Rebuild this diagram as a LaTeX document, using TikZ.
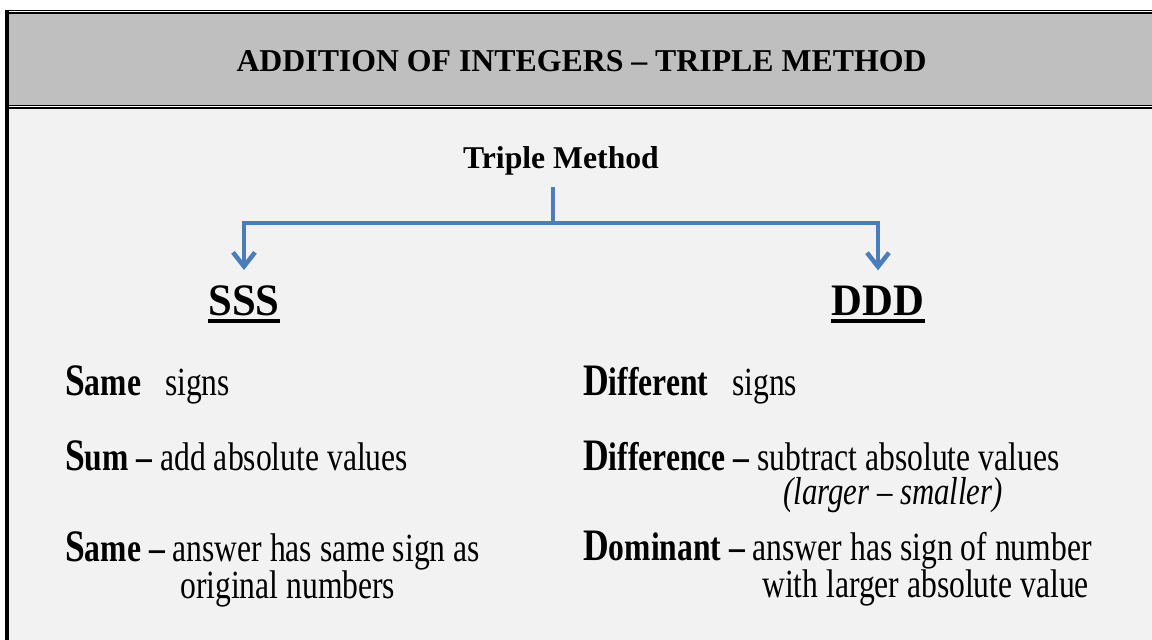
\documentclass[tikz,border=0pt]{standalone}
\usepackage{fontspec}
\setmainfont{Liberation Serif}
\newfontfamily\narrowfont[FakeStretch=0.79]{Liberation Serif}
\newfontfamily\bannerfont[FakeStretch=0.95]{Liberation Serif}
\usetikzlibrary{arrows.meta}
\definecolor{headgray}{RGB}{191,191,191}
\definecolor{bodygray}{RGB}{242,242,242}
\definecolor{flowblue}{RGB}{74,126,187}
\newcommand{\leadletter}[2]{{\bfseries{\fontsize{45}{48}\selectfont #1}#2}}

\begin{document}
\begin{tikzpicture}[x=1pt,y=-1pt,
	branch/.style={draw=flowblue,line width=4.5pt},
	rowtext/.style={anchor=base west,inner sep=0pt,font=\narrowfont\fontsize{40}{44}\selectfont},
	banner/.style={anchor=base,inner sep=0pt,font=\bannerfont\bfseries\fontsize{45}{50}\selectfont}]
\pgfmathsetmacro{\leftx}{65}
\pgfmathsetmacro{\rightx}{583}

\useasboundingbox (0,0) rectangle (1152,640);
\fill[white] (0,0) rectangle (1152,640);
\fill[bodygray] (7,108) rectangle (1152,640);
\fill[headgray] (7,12) rectangle (1152,106);
\draw[line width=1pt] (5,10.5) -- (1152,10.5);
\draw[line width=2pt] (5,13) -- (1152,13);
\draw[line width=1pt] (7,105.5) -- (1152,105.5);
\draw[line width=2.2pt] (7,108.3) -- (1152,108.3);
\draw[line width=4pt] (7,10) -- (7,640);

\node[anchor=base,inner sep=0pt,font=\bfseries\fontsize{31.8}{38}\selectfont] (title) at (581.5,71.5) {ADDITION OF INTEGERS – TRIPLE METHOD};
\node[anchor=base,inner sep=0pt,font=\bfseries\fontsize{31.7}{38}\selectfont] (trip) at (561,168) {Triple Method};

\node[banner] (sss) at (244,315) {SSS};
\node[banner] (ddd) at (878,315) {DDD};
\foreach \t in {sss, ddd}{
	\draw[line width=4pt] ([yshift=-5.5pt]\t.base west) -- ([yshift=-5.5pt]\t.base east);
}

\coordinate (fork) at (553,223);
\draw[branch,shorten <=12pt] (fork |- trip.south) -- (fork);
\foreach \t in {sss, ddd}{
	\draw[branch,-{Straight Barb[length=14pt,width=22pt]},shorten >=15pt] (fork) -| (\t.north);
}

\node[rowtext] (same1) at (\leftx,395) {\leadletter{S}{ame}\hspace{0.6em}signs};
\node[rowtext] (sum) at (\leftx,470) {\leadletter{S}{um –} add absolute values};
\node[rowtext] (same2) at (\leftx,561) {\leadletter{S}{ame –} answer has same sign as};
\node[rowtext] (orig) at (180,598) {original numbers};

\node[rowtext] (diff1) at (\rightx,395) {\leadletter{D}{ifferent}\hspace{0.6em}signs};
\node[rowtext] (diff2) at (\rightx,470) {\leadletter{D}{ifference –} subtract absolute values};
\node[rowtext,font=\narrowfont\itshape\fontsize{39}{42}\selectfont] (larger) at (783,504) {(larger – smaller)};
\node[rowtext] (dom) at (\rightx,560) {\leadletter{D}{ominant –} answer has sign of number};
\node[rowtext] (withl) at (762,597) {with larger absolute value};
\end{tikzpicture}
\end{document}
